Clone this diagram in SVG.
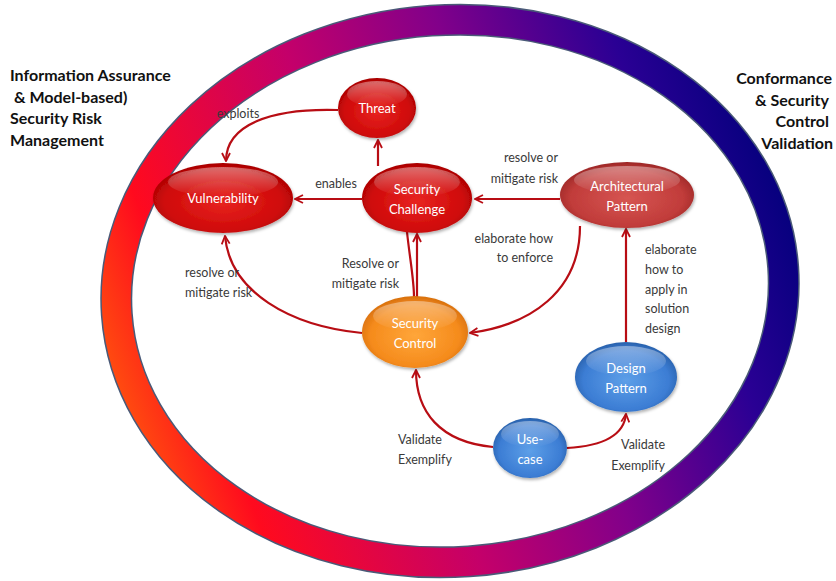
<svg xmlns="http://www.w3.org/2000/svg" width="836" height="581" viewBox="0 0 836 581">
<style>
.lbl{font-family:Lato,"Liberation Sans",sans-serif;font-size:12.5px;fill:#3a3a3a}
.nt{font-family:Lato,"Liberation Sans",sans-serif;font-size:13px;fill:#ffffff;text-anchor:middle}
.side{font-family:Lato,"Liberation Sans",sans-serif;font-size:16px;font-weight:bold;fill:#111}
.edge{fill:none;stroke:#b80d14;stroke-width:2.2;marker-end:url(#arr)}
.edge0{fill:none;stroke:#b80d14;stroke-width:2.2}
</style>
<defs>
<linearGradient id="ringG" gradientUnits="userSpaceOnUse" x1="130" y1="420" x2="790" y2="220">
<stop offset="0" stop-color="#ff4a10"/>
<stop offset="0.12" stop-color="#ff0a1e"/>
<stop offset="0.4" stop-color="#c4006a"/>
<stop offset="0.62" stop-color="#82008a"/>
<stop offset="0.85" stop-color="#2a0094"/>
<stop offset="1" stop-color="#06007e"/>
</linearGradient>
<radialGradient id="redG" cx="50%" cy="55%" r="60%">
<stop offset="0" stop-color="#e82420"/>
<stop offset="0.7" stop-color="#cf0a0a"/>
<stop offset="1" stop-color="#980000"/>
</radialGradient>
<radialGradient id="archG" cx="50%" cy="55%" r="60%">
<stop offset="0" stop-color="#d65552"/>
<stop offset="0.7" stop-color="#c13c3a"/>
<stop offset="1" stop-color="#8e1f1f"/>
</radialGradient>
<radialGradient id="orG" cx="50%" cy="55%" r="60%">
<stop offset="0" stop-color="#ffa63a"/>
<stop offset="0.7" stop-color="#f58b1c"/>
<stop offset="1" stop-color="#cc6508"/>
</radialGradient>
<radialGradient id="blG" cx="50%" cy="55%" r="60%">
<stop offset="0" stop-color="#5d9fe8"/>
<stop offset="0.7" stop-color="#3c7dd4"/>
<stop offset="1" stop-color="#21569c"/>
</radialGradient>
<linearGradient id="gloss" x1="0" y1="0" x2="0" y2="1">
<stop offset="0" stop-color="#fff" stop-opacity="0.4"/>
<stop offset="1" stop-color="#fff" stop-opacity="0"/>
</linearGradient>
<filter id="sh" x="-20%" y="-20%" width="140%" height="150%">
<feDropShadow dx="1" dy="2" stdDeviation="1.5" flood-color="#000" flood-opacity="0.3"/>
</filter>
<marker id="arr" viewBox="0 0 10 10" refX="9" refY="5" markerWidth="10" markerHeight="10" markerUnits="userSpaceOnUse" orient="auto">
<path d="M1,1 L9,5 L1,9" fill="none" stroke="#b80d14" stroke-width="1.8"/>
</marker>
</defs>
<rect width="836" height="581" fill="#ffffff"/>
<g id="ring" transform="rotate(-4 450 291)">
<ellipse cx="450" cy="291" rx="334" ry="271" fill="none" stroke="#4a5a78" stroke-width="32"/>
<ellipse cx="450" cy="291" rx="334" ry="271" fill="none" stroke="url(#ringG)" stroke-width="29"/>
</g>
<g id="side-labels">
<text class="side" x="10" y="81">Information Assurance</text>
<text class="side" x="14" y="103">&amp; Model-based)</text>
<text class="side" x="10" y="124">Security Risk</text>
<text class="side" x="10" y="146">Management</text>
<text class="side" x="832" y="84" text-anchor="end">Conformance</text>
<text class="side" x="829" y="106" text-anchor="end">&amp; Security</text>
<text class="side" x="829" y="127" text-anchor="end">Control</text>
<text class="side" x="833" y="149" text-anchor="end">Validation</text>
</g>
<g id="connectors">
<path class="edge" d="M338,110 C 270,108 226,125 226,161"/>
<path class="edge" d="M378,166 L378,140"/>
<path class="edge" d="M362,199 L295,199"/>
<path class="edge" d="M560,199 L475,199"/>
<path class="edge" d="M580,226 C 580,292 530,325 470,333"/>
<path class="edge" d="M626,342 L626,229"/>
<path class="edge" d="M362,333 C 290,326 230,292 225,236"/>
<path class="edge0" d="M407,232 C 410,260 414,280 414,297"/>
<path class="edge" d="M417,297 L417,234"/>
<path class="edge" d="M493,447 C 440,442 416,412 416,370"/>
<path class="edge" d="M567,448 C 602,446 624,436 626,414"/>
</g>
<g id="edge-labels">
<text class="lbl" x="238" y="118" text-anchor="middle">exploits</text>
<text class="lbl" x="336" y="188" text-anchor="middle">enables</text>
<text class="lbl" x="558" y="162" text-anchor="end">resolve or</text>
<text class="lbl" x="558" y="183" text-anchor="end">mitigate risk</text>
<text class="lbl" x="553" y="243" text-anchor="end">elaborate how</text>
<text class="lbl" x="553" y="262" text-anchor="end">to enforce</text>
<text class="lbl" x="645" y="254">elaborate</text>
<text class="lbl" x="645" y="274">how to</text>
<text class="lbl" x="645" y="294">apply in</text>
<text class="lbl" x="645" y="313">solution</text>
<text class="lbl" x="645" y="333">design</text>
<text class="lbl" x="185" y="277">resolve or</text>
<text class="lbl" x="185" y="297">mitigate risk</text>
<text class="lbl" x="399" y="268" text-anchor="end">Resolve or</text>
<text class="lbl" x="399" y="288" text-anchor="end">mitigate risk</text>
<text class="lbl" x="398" y="444">Validate</text>
<text class="lbl" x="398" y="464">Exemplify</text>
<text class="lbl" x="665" y="449" text-anchor="end">Validate</text>
<text class="lbl" x="665" y="470" text-anchor="end">Exemplify</text>
</g>
<g id="threat">
<ellipse cx="377" cy="108" rx="39" ry="30" fill="url(#redG)" filter="url(#sh)"/>
<ellipse cx="377" cy="94" rx="30" ry="13" fill="url(#gloss)"/>
<text class="nt" x="377" y="113">Threat</text>
</g>
<g id="vulnerability">
<ellipse cx="223" cy="198" rx="70" ry="35" fill="url(#redG)" filter="url(#sh)"/>
<ellipse cx="223" cy="182" rx="55" ry="15" fill="url(#gloss)"/>
<text class="nt" x="223" y="203">Vulnerability</text>
</g>
<g id="security-challenge">
<ellipse cx="417" cy="198" rx="55" ry="35" fill="url(#redG)" filter="url(#sh)"/>
<ellipse cx="417" cy="182" rx="43" ry="15" fill="url(#gloss)"/>
<text class="nt" x="417" y="194">Security</text>
<text class="nt" x="417" y="214">Challenge</text>
</g>
<g id="architectural-pattern">
<ellipse cx="627" cy="195" rx="67" ry="33" fill="url(#archG)" filter="url(#sh)"/>
<ellipse cx="627" cy="180" rx="53" ry="14" fill="url(#gloss)"/>
<text class="nt" x="627" y="191">Architectural</text>
<text class="nt" x="627" y="211">Pattern</text>
</g>
<g id="security-control">
<ellipse cx="415" cy="332" rx="53" ry="36" fill="url(#orG)" filter="url(#sh)"/>
<ellipse cx="415" cy="316" rx="42" ry="15" fill="url(#gloss)"/>
<text class="nt" x="415" y="328">Security</text>
<text class="nt" x="415" y="348">Control</text>
</g>
<g id="design-pattern">
<ellipse cx="626" cy="377" rx="51" ry="35" fill="url(#blG)" filter="url(#sh)"/>
<ellipse cx="626" cy="361" rx="40" ry="15" fill="url(#gloss)"/>
<text class="nt" x="626" y="373">Design</text>
<text class="nt" x="626" y="393">Pattern</text>
</g>
<g id="use-case">
<ellipse cx="530" cy="448" rx="37" ry="30" fill="url(#blG)" filter="url(#sh)"/>
<ellipse cx="530" cy="434" rx="29" ry="13" fill="url(#gloss)"/>
<text class="nt" x="530" y="444">Use-</text>
<text class="nt" x="530" y="464">case</text>
</g>
</svg>
